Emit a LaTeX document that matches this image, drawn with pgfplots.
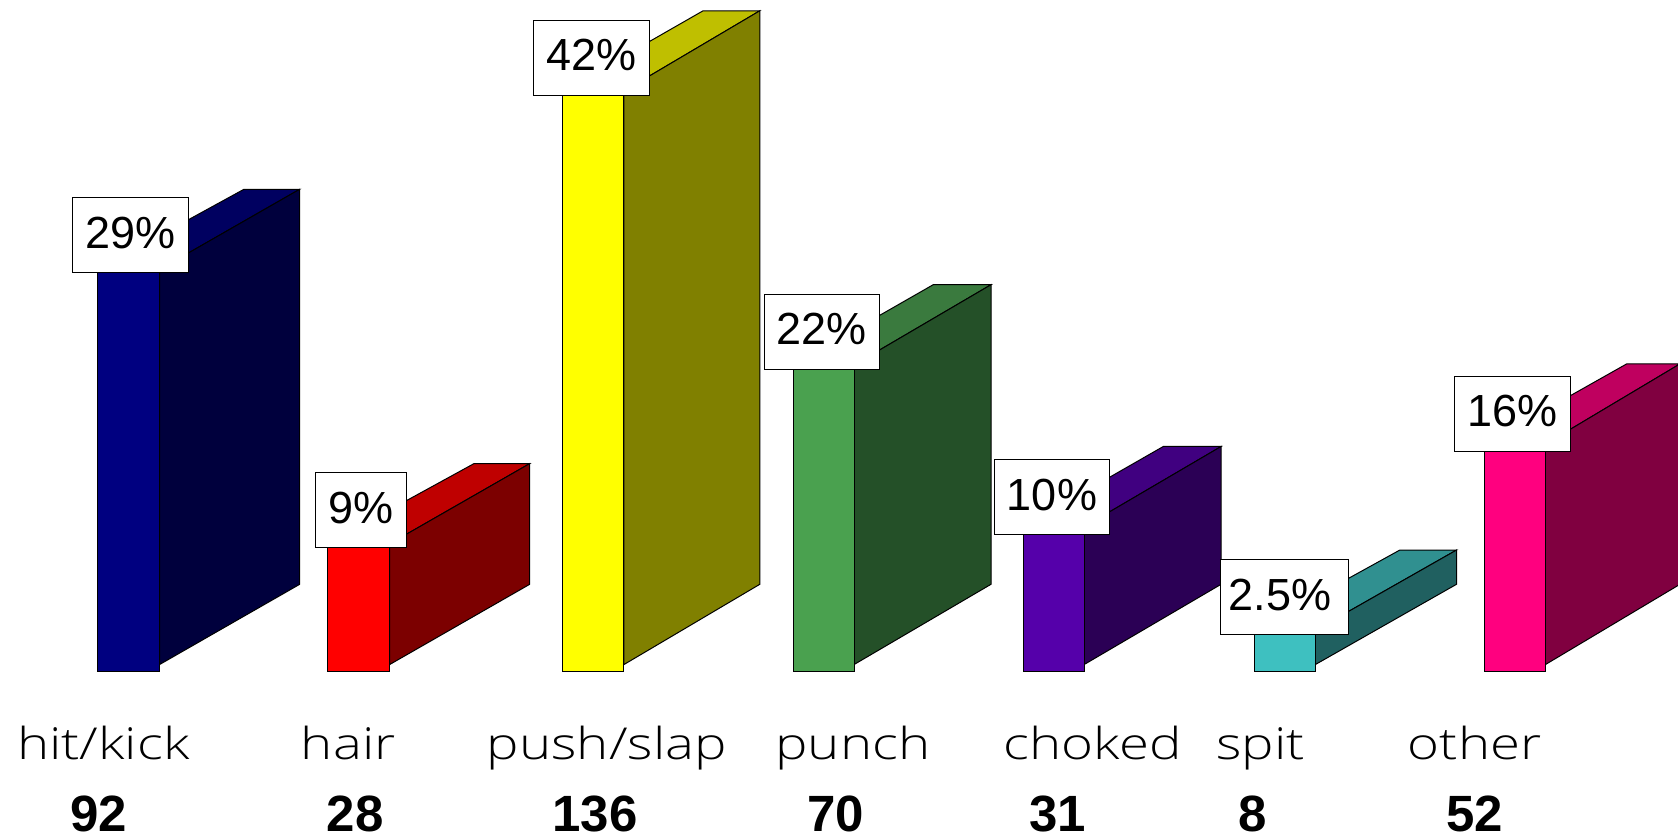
\documentclass[border=0pt]{standalone}
\usepackage{pgfplots}
\pgfplotsset{compat=1.18}
\usepackage{fontspec}
\setmainfont{Liberation Sans}
\newfontfamily\catfont[FakeStretch=1.24]{Open Sans Light}
\definecolor{f1}{HTML}{000080}\definecolor{s1}{HTML}{00003D}\definecolor{t1}{HTML}{000060}
\definecolor{f2}{HTML}{FF0000}\definecolor{s2}{HTML}{7C0000}\definecolor{t2}{HTML}{BF0000}
\definecolor{f3}{HTML}{FFFF00}\definecolor{s3}{HTML}{808000}\definecolor{t3}{HTML}{BFBF00}
\definecolor{f4}{HTML}{4AA14F}\definecolor{s4}{HTML}{245028}\definecolor{t4}{HTML}{3A7A3E}
\definecolor{f5}{HTML}{5500AA}\definecolor{s5}{HTML}{2B0055}\definecolor{t5}{HTML}{400080}
\definecolor{f6}{HTML}{3EC0C0}\definecolor{s6}{HTML}{206060}\definecolor{t6}{HTML}{309090}
\definecolor{f7}{HTML}{FF007F}\definecolor{s7}{HTML}{800040}\definecolor{t7}{HTML}{BF005F}
\tikzset{pct/.style={draw=black,line width=0.5pt,fill=white,inner sep=0pt,
  text height=13.2pt,text depth=0pt,
  minimum width=#1,minimum height=37.5pt,font=\fontsize{22.5}{24}\selectfont},
  cat/.style={anchor=base,font=\catfont\fontsize{22}{25}\selectfont},
  val/.style={anchor=base,font=\bfseries\fontsize{25.5}{27}\selectfont}}
\pgfplotsset{bf/.style={draw=black,line width=0.5pt,fill=#1}}
\begin{document}
\begin{tikzpicture}
\path[use as bounding box] (0,0) rectangle (839pt,418pt);
\begin{axis}[hide axis,scale only axis,width=839pt,height=418pt,at={(0,0)},anchor=south west,
  xmin=0,xmax=1678,ymin=-38.55,ymax=156.78]
% bar 1: hit/kick
\addplot[bf=t1] coordinates {(97.4,93.8)(244,112.56)(299.7,112.56)(159.5,93.8)} -- cycle;
\addplot[bf=s1] coordinates {(159.5,1.5)(299.7,20.26)(299.7,112.56)(159.5,93.8)} -- cycle;
\addplot[bf=f1] coordinates {(97.4,0)(159.5,0)(159.5,95.3)(97.4,95.3)} -- cycle;
% bar 2: hair
\addplot[bf=t2] coordinates {(327.5,29.7)(474,48.46)(529.7,48.46)(389.6,29.7)} -- cycle;
\addplot[bf=s2] coordinates {(389.6,1.5)(529.7,20.26)(529.7,48.46)(389.6,29.7)} -- cycle;
\addplot[bf=f2] coordinates {(327.5,0)(389.6,0)(389.6,31.2)(327.5,31.2)} -- cycle;
% bar 3: push/slap
\addplot[bf=t3] coordinates {(562.9,135.5)(703.1,154.26)(759.8,154.26)(623.9,135.5)} -- cycle;
\addplot[bf=s3] coordinates {(623.9,1.5)(759.8,20.26)(759.8,154.26)(623.9,135.5)} -- cycle;
\addplot[bf=f3] coordinates {(562.9,0)(623.9,0)(623.9,137)(562.9,137)} -- cycle;
% bar 4: punch
\addplot[bf=t4] coordinates {(793,71.5)(933.2,90.26)(991,90.26)(854,71.5)} -- cycle;
\addplot[bf=s4] coordinates {(854,1.5)(991,20.26)(991,90.26)(854,71.5)} -- cycle;
\addplot[bf=f4] coordinates {(793,0)(854,0)(854,73)(793,73)} -- cycle;
% bar 5: choked
\addplot[bf=t5] coordinates {(1023.1,33.7)(1163.3,52.46)(1221.1,52.46)(1084.1,33.7)} -- cycle;
\addplot[bf=s5] coordinates {(1084.1,1.5)(1221.1,20.26)(1221.1,52.46)(1084.1,33.7)} -- cycle;
\addplot[bf=f5] coordinates {(1023.1,0)(1084.1,0)(1084.1,35.2)(1023.1,35.2)} -- cycle;
% bar 6: spit
\addplot[bf=t6] coordinates {(1254.3,9.5)(1399.8,28.26)(1456.5,28.26)(1315.3,9.5)} -- cycle;
\addplot[bf=s6] coordinates {(1315.3,1.5)(1456.5,20.26)(1456.5,28.26)(1315.3,9.5)} -- cycle;
\addplot[bf=f6] coordinates {(1254.3,0)(1315.3,0)(1315.3,11)(1254.3,11)} -- cycle;
% bar 7: other
\addplot[bf=t7] coordinates {(1484.4,53)(1626.7,71.76)(1680,71.76)(1545.4,53)} -- cycle;
\addplot[bf=s7] coordinates {(1545.4,1.5)(1680,20.26)(1680,71.76)(1545.4,53)} -- cycle;
\addplot[bf=f7] coordinates {(1484.4,0)(1545.4,0)(1545.4,54.5)(1484.4,54.5)} -- cycle;
% percentage boxes
\node[pct=57.8pt] at (axis cs:130.6,101.8) {29\%};
\node[pct=45.5pt] at (axis cs:361.2,37.6) {9\%};
\node[pct=57.8pt] at (axis cs:591.3,143.3) {42\%};
\node[pct=57.8pt] at (axis cs:821.9,79.3) {22\%};
\node[pct=57.8pt] at (axis cs:1052,40.7) {10\%};
\node[pct=64.2pt] at (axis cs:1284.3,17.3) {\hspace*{-4.3pt}2.5\%};
\node[pct=57.8pt] at (axis cs:1512.2,60.1) {16\%};
% categories
\node[cat] at (axis cs:103.3,-20.56) {hit/kick};
\node[cat] at (axis cs:348.3,-20.56) {hair};
\node[cat] at (axis cs:606.8,-20.56) {push/slap};
\node[cat] at (axis cs:853,-20.56) {punch};
\node[cat] at (axis cs:1092.7,-20.56) {choked};
\node[cat] at (axis cs:1260.7,-20.56) {spit};
\node[cat] at (axis cs:1474.7,-20.56) {other};
% counts
\node[val] at (axis cs:98.5,-37.6) {92};
\node[val] at (axis cs:355.3,-37.6) {28};
\node[val] at (axis cs:595,-37.6) {136};
\node[val] at (axis cs:835.8,-37.6) {70};
\node[val] at (axis cs:1057.4,-37.6) {31};
\node[val] at (axis cs:1252.2,-37.6) {8};
\node[val] at (axis cs:1474.7,-37.6) {52};
\end{axis}
\end{tikzpicture}
\end{document}
